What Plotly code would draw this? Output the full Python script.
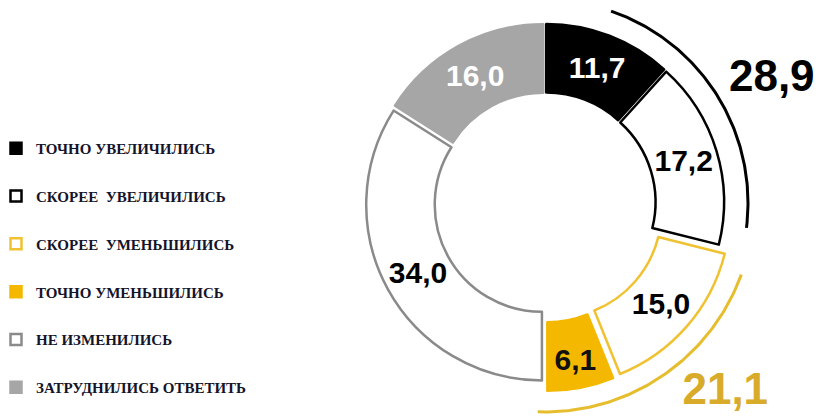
import numpy as np
import plotly.graph_objects as go

# ---------------- data ----------------
categories = [
    "ТОЧНО УВЕЛИЧИЛИСЬ",
    "СКОРЕЕ  УВЕЛИЧИЛИСЬ",
    "СКОРЕЕ  УМЕНЬШИЛИСЬ",
    "ТОЧНО УМЕНЬШИЛИСЬ",
    "НЕ ИЗМЕНИЛИСЬ",
    "ЗАТРУДНИЛИСЬ ОТВЕТИТЬ",
]
values = [11.7, 17.2, 15.0, 6.1, 34.0, 16.0]
# slices summed into the outer brackets ("increased" and "decreased")
group_members = [[0, 1], [2, 3]]

# ---------------- style ----------------
fill_colors = ["#000000", "#ffffff", "#ffffff", "#f5b800", "#ffffff", "#a6a6a6"]
line_colors = ["#000000", "#000000", "#f0c232", "#f5b800", "#8a8a8a", "#a6a6a6"]
text_colors = ["#ffffff", "#000000", "#000000", "#111111", "#000000", "#ffffff"]
pulls = [0.02, 0.02, 0.07, 0.07, 0.02, 0.02]
group_colors = ["#000000", "#e6bd2c"]
group_text_colors = ["#000000", "#d9ab2b"]
arc_pad = [(19, -7), (6, 2)]      # degrees trimmed at arc start / added at arc end
arc_rpx = [203, 209]              # bracket radius in px
label_dtheta = [3.5, -9.5]
label_rpx = [258, 262]

# the page body adds an 8 px margin, so the figure is 8 px smaller than the window
FW, FH = 816, 410
cx, cy = 537, 195          # donut centre in figure px
pie_half = 188             # half size of the pie box in px


def fmt(v):
    return f"{v:.1f}".replace(".", ",")


fig = go.Figure()

# donut
fig.add_trace(go.Pie(
    labels=categories,
    values=values,
    sort=False,
    direction="clockwise",
    rotation=0,
    hole=0.61,
    pull=pulls,
    text=[fmt(v) for v in values],
    textinfo="text",
    textposition="inside",
    insidetextorientation="horizontal",
    insidetextfont=dict(family="Liberation Sans, Arial", size=30, color=text_colors, weight="bold"),
    marker=dict(colors=fill_colors, line=dict(color=line_colors, width=2.5)),
    domain=dict(x=[(cx - pie_half) / FW, (cx + pie_half) / FW],
                y=[1 - (cy + pie_half) / FH, 1 - (cy - pie_half) / FH]),
    showlegend=False,
    hoverinfo="skip",
))

# outer brackets and their totals (drawn on a pixel-scaled overlay axis)
total = sum(values)
cum = np.concatenate([[0], np.cumsum(values)]) / total * 360.0
for g, members in enumerate(group_members):
    a0 = cum[members[0]] + arc_pad[g][0]
    a1 = cum[members[-1] + 1] + arc_pad[g][1]
    th = np.radians(np.linspace(a0, a1, 100))
    fig.add_trace(go.Scatter(
        x=cx + arc_rpx[g] * np.sin(th), y=cy - arc_rpx[g] * np.cos(th),
        mode="lines", line=dict(color=group_colors[g], width=3),
        showlegend=False, hoverinfo="skip", cliponaxis=False,
    ))
    gsum = sum(values[i] for i in members)
    tm = np.radians((a0 + a1) / 2 + label_dtheta[g])
    fig.add_trace(go.Scatter(
        x=[cx + label_rpx[g] * np.sin(tm)], y=[cy - label_rpx[g] * np.cos(tm)],
        mode="text", text=[fmt(gsum)], textposition="middle center",
        textfont=dict(family="Liberation Sans, Arial", size=44, color=group_text_colors[g], weight="bold"),
        showlegend=False, hoverinfo="skip", cliponaxis=False,
    ))

# legend entries
for i, name in enumerate(categories):
    fig.add_trace(go.Scatter(
        x=[None], y=[None], mode="markers", name=name,
        legendgroup=f"g{i}",
        marker=dict(symbol="square", size=11, color=fill_colors[i],
                    line=dict(color=line_colors[i], width=2.5)),
    ))

fig.update_layout(
    width=FW, height=FH,
    margin=dict(l=0, r=0, t=0, b=0, autoexpand=False),
    paper_bgcolor="white",
    plot_bgcolor="rgba(0,0,0,0)",
    xaxis=dict(range=[0, FW], visible=False, fixedrange=True),
    yaxis=dict(range=[FH, 0], visible=False, fixedrange=True),
    legend=dict(
        x=-12 / FW, xanchor="left", y=1 - 260 / FH, yanchor="middle",
        tracegroupgap=25.3,
        font=dict(family="Liberation Serif, Times New Roman, serif", size=15, color="#14142a", weight="bold"),
        bgcolor="rgba(0,0,0,0)",
    ),
)

fig.write_html("out.html")
